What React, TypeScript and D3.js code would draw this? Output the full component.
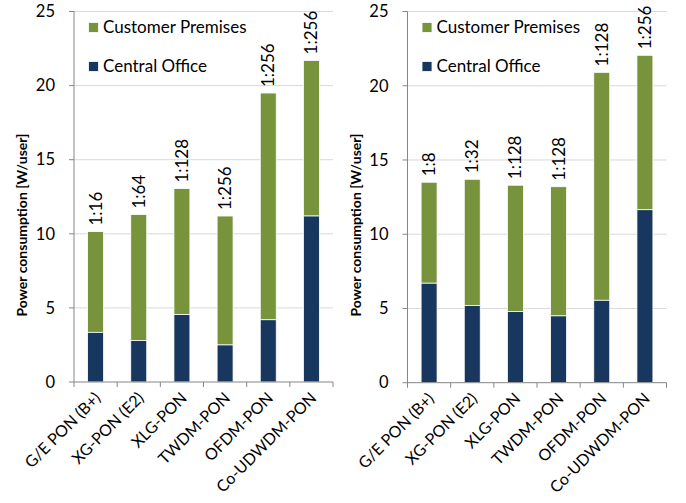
import React from "react";
import * as d3 from "d3";

const categories = ["G/E PON (B+)", "XG-PON (E2)", "XLG-PON", "TWDM-PON", "OFDM-PON", "Co-UDWDM-PON"];
const leftCentralOffice = [3.35, 2.8, 4.55, 2.5, 4.2, 11.2];
const leftTotal = [10.15, 11.3, 13.05, 11.2, 19.5, 21.7];
const leftSplit = ["1:16", "1:64", "1:128", "1:256", "1:256", "1:256"];
const rightCentralOffice = [6.7, 5.2, 4.8, 4.5, 5.55, 11.65];
const rightTotal = [13.5, 13.7, 13.3, 13.2, 20.9, 22.05];
const rightSplit = ["1:8", "1:32", "1:128", "1:128", "1:128", "1:256"];
const yTicks = [0, 5, 10, 15, 20, 25];
const seriesNames = ["Customer Premises", "Central Office"];

const GREEN = "#77933C";
const NAVY = "#17375E";
const FONT = "Lato, 'Open Sans', sans-serif";

type PanelProps = {
  x0: number;
  x1: number;
  y0: number;
  y1: number;
  labelX: number;
  co: number[];
  total: number[];
  split: string[];
};

function Panel({ x0, x1, y0, y1, labelX, co, total, split }: PanelProps) {
  const x = d3.scaleBand<string>().domain(categories).range([x0, x1]).paddingInner(0.63).paddingOuter(0.315);
  const xb = d3.scaleBand<string>().domain(categories).range([x0, x1]);
  const y = d3.scaleLinear().domain([0, 25]).range([y0, y1]);
  return (
    <g fontFamily={FONT}>
      {yTicks.filter((t) => t > 0).map((t) => (
        <line key={"g" + t} x1={x0} x2={x1} y1={y(t)} y2={y(t)} stroke="#D9D9D9" strokeWidth={1} />
      ))}
      {yTicks.map((t) => (
        <g key={"t" + t}>
          <line x1={x0 - 5} x2={x0} y1={y(t)} y2={y(t)} stroke="#868686" />
          <text x={x0 - 19} y={y(t)} dy="0.35em" textAnchor="end" fontSize={16.5} fill="#000">{t}</text>
        </g>
      ))}
      {categories.map((c, i) => {
        const bx = x(c)!;
        const bw = x.bandwidth();
        const cx = bx + bw / 2;
        return (
          <g key={c}>
            <rect x={bx} width={bw} y={y(total[i])} height={y(co[i]) - y(total[i])} fill={GREEN} stroke="#fff" strokeWidth={0.8} />
            <rect x={bx} width={bw} y={y(co[i])} height={y(0) - y(co[i])} fill={NAVY} stroke="#fff" strokeWidth={0.8} />
            <text transform={`translate(${cx + 6},${y(total[i]) - 6}) rotate(-90)`} fontSize={17} fill="#000">{split[i]}</text>
            <text transform={`translate(${cx + 6},${y0 + 17}) rotate(-45)`} textAnchor="end" fontSize={16} fill="#000">{c}</text>
          </g>
        );
      })}
      <line x1={x0} x2={x0} y1={y1} y2={y0} stroke="#868686" />
      <line x1={x0} x2={x1} y1={y0} y2={y0} stroke="#868686" />
      {categories.map((c) => (
        <line key={"xt" + c} x1={xb(c)!} x2={xb(c)!} y1={y0} y2={y0 + 5} stroke="#868686" />
      ))}
      <line x1={x1} x2={x1} y1={y0} y2={y0 + 5} stroke="#868686" />
      <text transform={`translate(${labelX},${225}) rotate(-90)`} textAnchor="middle" fontSize={14} fontWeight="bold" fill="#000">Power consumption [W/user]</text>
      {seriesNames.map((s, i) => (
        <g key={s}>
          <rect x={x0 + 14.5} y={i === 0 ? 22.5 : 61.5} width={10} height={10} fill={i === 0 ? GREEN : NAVY} stroke="#fff" strokeWidth={0.8} />
          <text x={x0 + 29} y={i === 0 ? 32.5 : 71.5} fontSize={17} fill="#000">{s}</text>
        </g>
      ))}
    </g>
  );
}

export default function App() {
  return (
    <svg width={686} height={503} style={{ position: "absolute", left: 0, top: 0, background: "#fff" }}>
      <rect width={686} height={503} fill="#fff" />
      <Panel x0={74} x1={333} y0={382} y1={11.5} labelX={27} co={leftCentralOffice} total={leftTotal} split={leftSplit} />
      <Panel x0={407.5} x1={666.5} y0={382.7} y1={11.5} labelX={361} co={rightCentralOffice} total={rightTotal} split={rightSplit} />
    </svg>
  );
}
